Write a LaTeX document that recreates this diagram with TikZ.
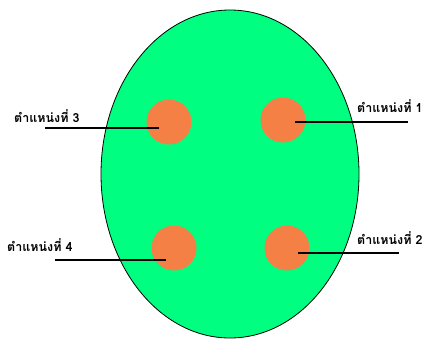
\documentclass[tikz,border=0pt]{standalone}
\usepackage{fontspec}
\newfontfamily\thaifont[Script=Thai]{Loma}
\usetikzlibrary{positioning}

\definecolor{eggfill}{HTML}{00FF80}
\definecolor{spotfill}{HTML}{F58045}

\begin{document}
\begin{tikzpicture}[
  x=1pt, y=-1pt,
  egg/.style={draw=black, line width=0.8pt, fill=eggfill},
  spot/.style={circle, fill=spotfill, inner sep=0pt, minimum size=45pt},
  pointer/.style={draw, line width=1.8pt},
  lbl/.style={font=\thaifont\bfseries\fontsize{12.5}{14}\selectfont, inner sep=0pt, anchor=south west}
]
\useasboundingbox (0,0) rectangle (441,338);

% Body
\draw[egg] (230,174) ellipse [x radius=129, y radius=164];

% Spots
\node[spot] (s1) at (283,120) {};
\node[spot] (s2) at (287,248) {};
\node[spot] (s3) at (169,122) {};
\node[spot] (s4) at (174,248) {};

% Labels
\node[lbl] (l1) at (357,113) {ตำแหน่งที่ 1};
\node[lbl] (l2) at (357,245) {ตำแหน่งที่ 2};
\node[lbl] (l3) at (14,123) {ตำแหน่งที่ 3};
\node[lbl] (l4) at (7,252) {ตำแหน่งที่ 4};

% Pointer ends
\coordinate (e1) at (408,122);
\coordinate (e2) at (399,253);
\coordinate (e3) at (45,128);
\coordinate (e4) at (55,260);

\draw[pointer] (s1.center) ++(12,2) -- (e1);
\draw[pointer] (s2.center) ++(11,5) -- (e2);
\draw[pointer] (s3.center) ++(-10,6) -- (e3);
\draw[pointer] (s4.center) ++(-8,12) -- (e4);

\end{tikzpicture}
\end{document}
